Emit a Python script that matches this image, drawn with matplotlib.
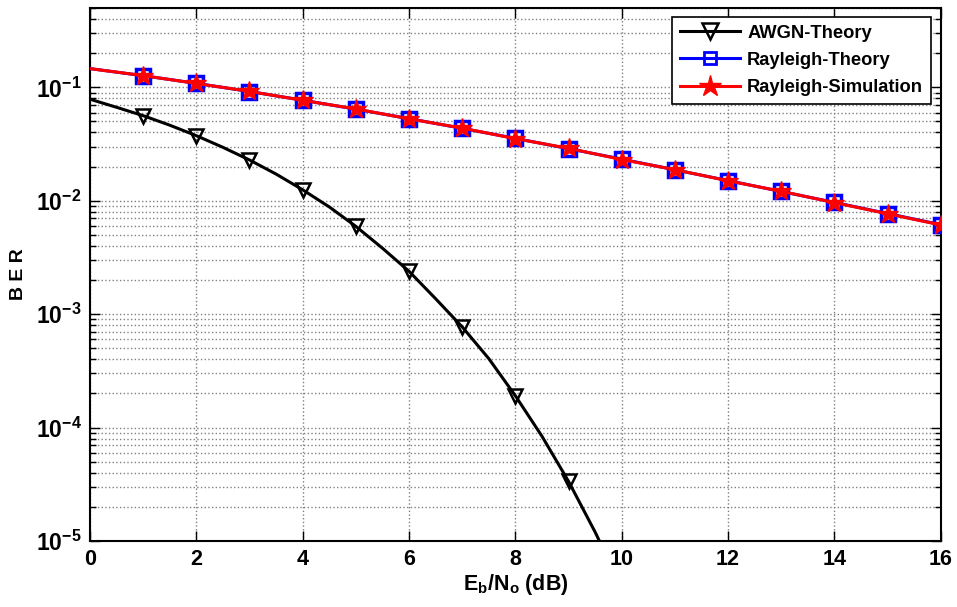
import matplotlib
matplotlib.use("Agg")
import matplotlib.pyplot as plt
from matplotlib.ticker import LogLocator, FixedLocator, NullFormatter, FixedFormatter
from matplotlib.lines import Line2D

plt.rcParams['font.family'] = ['Liberation Sans', 'DejaVu Sans']
plt.rcParams['font.weight'] = 'bold'
plt.rcParams['mathtext.fontset'] = 'custom'
plt.rcParams['mathtext.rm'] = 'Liberation Sans:bold'
plt.rcParams['mathtext.bf'] = 'Liberation Sans:bold'
plt.rcParams['mathtext.it'] = 'Liberation Sans:bold'
plt.rcParams['mathtext.default'] = 'bf'

# AWGN theory curve (read at half-dB steps)
awgn_x = [0, 0.5, 1, 1.5, 2, 2.5, 3, 3.5, 4, 4.5, 5, 5.5, 6, 6.5, 7, 7.5, 8, 8.5, 9, 9.5, 10]
awgn_ber = [0.0786, 0.0667, 0.0563, 0.0464, 0.0375, 0.0296, 0.0229, 0.0172, 0.0125, 0.00883,
            0.00595, 0.00382, 0.00239, 0.00137, 0.000773, 0.000406, 0.000191, 8.4e-5,
            3.36e-5, 1.2e-5, 3.9e-6]
awgn_mark_x = [1, 2, 3, 4, 5, 6, 7, 8, 9]
awgn_mark_ber = [0.0563, 0.0375, 0.0229, 0.0125, 0.00595, 0.00239, 0.000773, 0.000191, 3.36e-5]

# Rayleigh theory / simulation
ray_x = [0, 1, 2, 3, 4, 5, 6, 7, 8, 9, 10, 11, 12, 13, 14, 15, 16]
ray_theory = [0.1464, 0.1267, 0.1085, 0.0919, 0.0771, 0.0642, 0.0530, 0.0435, 0.0355,
              0.0288, 0.0233, 0.01875, 0.01506, 0.01208, 0.00967, 0.00772, 0.00616]
ray_sim = [0.1462, 0.1270, 0.1082, 0.0922, 0.0768, 0.0645, 0.0528, 0.0437, 0.0353,
           0.0290, 0.0231, 0.01880, 0.01500, 0.01212, 0.00963, 0.00768, 0.00612]

xticks = [0, 2, 4, 6, 8, 10, 12, 14, 16]
yticks = [1e-5, 1e-4, 1e-3, 1e-2, 1e-1]
ytick_labels = [r'$\mathbf{10^{-5}}$', r'$\mathbf{10^{-4}}$', r'$\mathbf{10^{-3}}$',
                r'$\mathbf{10^{-2}}$', r'$\mathbf{10^{-1}}$']

fig = plt.figure(figsize=(9.57, 6.07), dpi=100)
ax = fig.add_axes([0.094, 0.1087, 0.889, 0.878])

ax.set_yscale('log')
ax.set_xlim(0, 16)
ax.set_ylim(1e-5, 0.5)

# AWGN
ax.plot(awgn_x, awgn_ber, color='black', lw=2.2, zorder=3)
ax.plot(awgn_mark_x, awgn_mark_ber, linestyle='none', marker='v', ms=10.5,
        mfc='none', mec='black', mew=1.8, zorder=4)
# Rayleigh theory
ax.plot(ray_x, ray_theory, color='blue', lw=2.2, zorder=3)
ax.plot(ray_x[1:], ray_theory[1:], linestyle='none', marker='s', ms=10,
        mfc='none', mec='blue', mew=2.5, zorder=4)
# Rayleigh simulation
ax.plot(ray_x, ray_sim, color='red', lw=2.2, zorder=5)
ax.plot(ray_x[1:], ray_sim[1:], linestyle='none', marker='*', ms=15,
        mfc='red', mec='red', mew=1, zorder=6)

# legend proxies
h = [Line2D([], [], color='black', lw=2.2, marker='v', ms=11, mfc='none', mec='black', mew=1.8),
     Line2D([], [], color='blue', lw=2.2, marker='s', ms=8.5, mfc='none', mec='blue', mew=2),
     Line2D([], [], color='red', lw=2.2, marker='*', ms=16, mfc='red', mec='red')]
leg = ax.legend(h, ['AWGN-Theory', 'Rayleigh-Theory', 'Rayleigh-Simulation'],
                loc='upper right', bbox_to_anchor=(0.9885, 0.983), fancybox=False,
                framealpha=1, edgecolor='black', borderpad=0.42, labelspacing=0.55,
                handlelength=3.3, handletextpad=0.38, borderaxespad=0,
                prop={'weight': 'bold', 'size': 13.2})
leg.get_frame().set_linewidth(1.2)
leg.set_zorder(10)

ax.xaxis.set_major_locator(FixedLocator(xticks))
ax.set_xticklabels([str(v) for v in xticks])
ax.yaxis.set_major_locator(FixedLocator(yticks))
ax.yaxis.set_major_formatter(FixedFormatter(ytick_labels))
ax.yaxis.set_minor_locator(LogLocator(base=10, subs=range(2, 10), numticks=20))
ax.yaxis.set_minor_formatter(NullFormatter())

ax.grid(True, which='major', axis='both', color='#808080', linestyle=':', linewidth=1.0)
ax.grid(True, which='minor', axis='y', color='#808080', linestyle=':', linewidth=1.0)

ax.tick_params(axis='both', which='both', direction='in', top=True, right=True)
ax.tick_params(axis='x', which='major', length=7, width=1, labelsize=15.5, pad=6)
ax.tick_params(axis='y', which='major', length=7, width=1, labelsize=16.5, pad=6)
ax.tick_params(axis='y', which='minor', length=4, width=1)
for lab in ax.get_xticklabels() + ax.get_yticklabels():
    lab.set_fontweight('bold')

for s in ax.spines.values():
    s.set_linewidth(1.5)

ax.set_xlabel(r'$\mathbf{E_b/N_o}$' + ' (dB)', fontsize=15.5, fontweight='bold', labelpad=1)
ax.set_ylabel('B E R', fontsize=14, fontweight='bold', labelpad=6)

fig.savefig('out.png', dpi=100)
